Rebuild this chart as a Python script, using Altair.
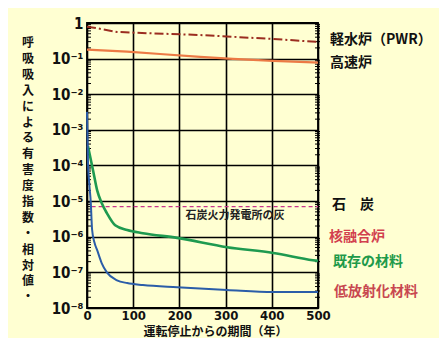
import altair as alt
import pandas as pd

# ---- data ----
pwr_x = [0, 15, 65, 143, 245, 316, 403, 500]
pwr_y = [0.79, 0.74, 0.56, 0.51, 0.46, 0.41, 0.355, 0.295]

fast_x = [0, 87, 158, 245, 316, 403, 489, 500]
fast_y = [0.18, 0.158, 0.135, 0.112, 0.098, 0.087, 0.078, 0.077]

coal_x = [10, 500]
coal_y = [7e-6, 7e-6]

exist_x = [2, 6, 13, 22, 32, 43, 61, 87, 121, 195, 303, 403, 489, 500]
exist_y = [3.5e-4, 2.0e-4, 7.4e-5, 2.0e-5, 8.7e-6, 4.6e-6, 2.1e-6, 1.55e-6,
           1.26e-6, 9.3e-7, 5.1e-7, 3.5e-7, 2.2e-7, 2.1e-7]

low_x = [0, 1, 2, 5, 8, 11, 16, 22, 32, 43, 65, 87, 121, 195, 303, 403, 500]
low_y = [3.2e-3, 8e-4, 1.4e-4, 3e-5, 1e-5, 1.6e-6, 7e-7, 4.2e-7, 1.8e-7,
         1.0e-7, 6.0e-8, 5.0e-8, 4.4e-8, 3.8e-8, 3.2e-8, 2.8e-8, 2.8e-8]

y_ticks = [1, 1e-1, 1e-2, 1e-3, 1e-4, 1e-5, 1e-6, 1e-7, 1e-8]
y_tick_labels = ["1", "10⁻¹", "10⁻²", "10⁻³", "10⁻⁴", "10⁻⁵", "10⁻⁶", "10⁻⁷", "10⁻⁸"]
x_ticks = [0, 100, 200, 300, 400, 500]
minor_y = [k * 10.0 ** n for n in range(-8, 0) for k in range(2, 10)]

series_labels = ["軽水炉（PWR）", "高速炉", "石　炭", "核融合炉", "既存の材料", "低放射化材料"]
series_label_colors = ["#111111", "#111111", "#111111", "#D2404E", "#1F9A4A", "#C84850"]
coal_note = "石炭火力発電所の灰"
y_title = "呼吸吸入による有害度指数・相対値・"
x_title = "運転停止からの期間（年）"

W, H = 231, 285
BG = "#FFFFD2"
NUM_FONT = "DejaVu Sans Condensed"
JP_FONT = "Noto Sans CJK JP"

label_expr = "[" + ",".join("'%s'" % s for s in y_tick_labels) + "][round(-log(datum.value)/LN10)]"

xs = alt.Scale(domain=[0, 500], nice=False)
ys = alt.Scale(type="log", domain=[1e-8, 1], nice=False)

def line_df(x, y):
    return pd.DataFrame({"x": x, "y": y})

xenc = alt.X("x:Q", scale=xs,
             axis=alt.Axis(values=x_ticks, grid=True, gridColor="#000000", gridWidth=1.6,
                           gridOpacity=1, ticks=False, domain=False, labelFont=NUM_FONT,
                           labelFontSize=13, labelFontWeight="bold", labelColor="#111111",
                           labelPadding=1, labelFlush=False,
                           title=x_title, titleFont=JP_FONT, titleFontSize=12,
                           titleFontWeight="bold", titleColor="#111111", titlePadding=0,
                           titleBaseline="middle", titleX=128, titleY=23.5))
yenc = alt.Y("y:Q", scale=ys,
             axis=alt.Axis(values=y_ticks, grid=True, gridColor="#000000", gridWidth=1.6,
                           gridOpacity=1, ticks=False, domain=False, labelExpr=label_expr,
                           labelFont=NUM_FONT, labelFontSize=15, labelFontWeight="bold",
                           labelColor="#111111", labelPadding=4, labelFlush=False,
                           title=None))

base_df = line_df(x_ticks[:2], [1e-8, 1])
axes = alt.Chart(base_df).mark_point(opacity=0).encode(x=xenc, y=yenc)

pwr = alt.Chart(line_df(pwr_x, pwr_y)).mark_line(
    color="#9B2D20", strokeWidth=2, strokeDash=[9, 3, 2, 3]).encode(x="x:Q", y="y:Q")
fast = alt.Chart(line_df(fast_x, fast_y)).mark_line(
    color="#EC7A45", strokeWidth=2.2).encode(x="x:Q", y="y:Q")
coal = alt.Chart(line_df(coal_x, coal_y)).mark_line(
    color="#C8358C", strokeWidth=1.4, strokeDash=[4, 3]).encode(x="x:Q", y="y:Q")
exist = alt.Chart(line_df(exist_x, exist_y)).mark_line(
    color="#1E9A50", strokeWidth=2.6, interpolate="monotone").encode(x="x:Q", y="y:Q")
low = alt.Chart(line_df(low_x, low_y)).mark_line(
    color="#2B5DA8", strokeWidth=2, interpolate="monotone").encode(x="x:Q", y="y:Q")

minor_df = pd.DataFrame({"y": minor_y})
minor_left = alt.Chart(minor_df).mark_rule(color="#000000", strokeWidth=1).encode(
    y=alt.Y("y:Q", scale=ys), x=alt.value(0), x2=alt.value(4))
minor_right = alt.Chart(minor_df).mark_rule(color="#000000", strokeWidth=1).encode(
    y=alt.Y("y:Q", scale=ys), x=alt.value(W - 3), x2=alt.value(W + 2))

label_df = pd.DataFrame({
    "t": series_labels,
    "c": series_label_colors,
    "py": [17, 40, 182, 214, 239, 269],
    "px": [W + 12, W + 12, W + 14, W + 11, W + 15, W + 16],
})
labels = alt.Chart(label_df).mark_text(
    font=JP_FONT, fontSize=14, fontWeight="bold", align="left", baseline="middle").encode(
    text="t:N", x=alt.X("px:Q", scale=None), y=alt.Y("py:Q", scale=None),
    color=alt.Color("c:N", scale=None))

note = alt.Chart(pd.DataFrame({"t": [coal_note]})).mark_text(
    font=JP_FONT, fontSize=11, fontWeight="bold", color="#222222", align="center",
    baseline="middle").encode(text="t:N", x=alt.value(148), y=alt.value(193))

ytitle = alt.Chart(pd.DataFrame({"t": [0]})).mark_text(
    text=list(y_title), font=JP_FONT, fontSize=12, fontWeight="bold", color="#111111",
    align="center", baseline="top", lineHeight=15.9).encode(
    x=alt.value(-59), y=alt.value(15))

topline = alt.Chart(pd.DataFrame({"t": [0]})).mark_rule(
    color="#333333", strokeWidth=2).encode(
    x=alt.value(-32), x2=alt.value(256), y=alt.value(-20.5))

chart = alt.layer(axes, minor_left, minor_right, coal, pwr, fast, exist, low,
                  labels, note, ytitle, topline).properties(
    width=W, height=H,
    autosize=alt.AutoSizeParams(type="none"),
    padding={"left": 79, "top": 15, "right": 121, "bottom": 30},
    background=BG,
).configure_view(stroke="#000000", strokeWidth=1.8, fill=BG)

chart.save("out.html", embed_options={"renderer": "svg", "actions": False})
